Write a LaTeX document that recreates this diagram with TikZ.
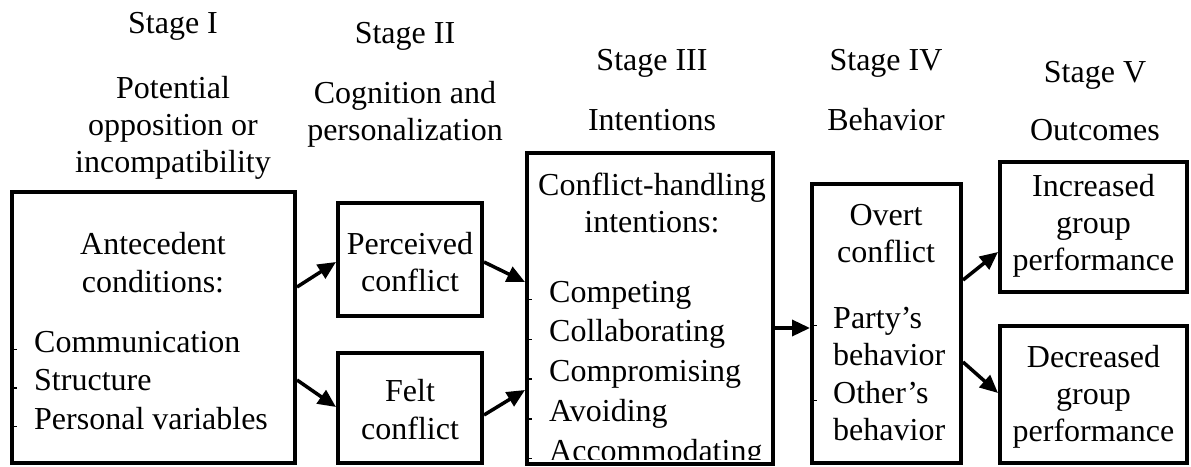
\documentclass[tikz,border=0pt]{standalone}
\usepackage{fontspec}
\setmainfont{Liberation Serif}
\usetikzlibrary{arrows.meta}
\begin{document}
\begin{tikzpicture}[x=1pt,y=-1pt,
  every node/.style={font=\fontsize{32pt}{38pt}\selectfont, inner sep=0pt},
  box/.style={draw, line width=4pt, rectangle, minimum width=#1},
  t/.style={anchor=base},
  li/.style={anchor=base west},
  arr/.style={line width=3.5pt, -{Triangle[length=18pt,width=16pt]}},
  tick/.style={line width=1.5pt}]
\useasboundingbox (0,0) rectangle (1191,466);

% boxes
\node[box=283pt, minimum height=271pt] (b1) at (153.5,327.5) {};
\node[box=144pt, minimum height=113pt] (b2) at (410,259.5) {};
\node[box=144pt, minimum height=110pt] (b3) at (410,408) {};
\node[box=246pt, minimum height=311pt] (b4) at (650,308.5) {};
\node[box=149pt, minimum height=279pt] (b5) at (886.5,323.5) {};
\node[box=187pt, minimum height=130pt] (b6) at (1093.5,227) {};
\node[box=187pt, minimum height=137pt] (b7) at (1093.5,394.5) {};

% headers
\node[t] (h1) at (173,33) {Stage I};
\node[t] (h1a) at (173,98) {Potential};
\node[t] (h1b) at (173,135) {opposition or};
\node[t] (h1c) at (173,172) {incompatibility};
\node[t] (h2) at (405,43) {Stage II};
\node[t] (h2a) at (405,103) {Cognition and};
\node[t] (h2b) at (405,140) {personalization};
\node[t] (h3) at (652,70) {Stage III};
\node[t] (h3a) at (652,130) {Intentions};
\node[t] (h4) at (886,70) {Stage IV};
\node[t] (h4a) at (886,130) {Behavior};
\node[t] (h5) at (1095,82) {Stage V};
\node[t] (h5a) at (1095,140) {Outcomes};

% box 1
\node[t] (a1) at (153,254) {Antecedent};
\node[t] (a2) at (153,292) {conditions:};
\node[li] (a3) at (34,352) {Communication};
\node[li] (a4) at (34,390.5) {Structure};
\node[li] (a5) at (34,429) {Personal variables};
\foreach \n in {a3,a4,a5} \draw[tick] (b1.west |- \n.mid) -- ++(7,0);

% box 2,3
\node[t] (p1) at (410,254) {Perceived};
\node[t] (p2) at (410,291) {conflict};
\node[t] (f1) at (410,401) {Felt};
\node[t] (f2) at (410,439) {conflict};

% box 4
\node[t] (c1) at (652,195) {Conflict-handling};
\node[t] (c2) at (652,232) {intentions:};
\node[li] (c3) at (549,302) {Competing};
\node[li] (c4) at (549,341.75) {Collaborating};
\node[li] (c5) at (549,381.5) {Compromising};
\node[li] (c6) at (549,421.25) {Avoiding};
\begin{scope}
\clip (b4.north west) rectangle ([yshift=7pt]b4.south east);
\node[li] (c7) at (549,461) {Accommodating};
\end{scope}
\foreach \n in {c3,c4,c5,c6,c7} \draw[tick] (b4.west |- \n.mid) -- ++(7,0);

% box 5
\node[t] (o1) at (886,225) {Overt};
\node[t] (o2) at (886,262) {conflict};
\node[li] (o3) at (833,328) {Party’s};
\node[li] (o4) at (833,365) {behavior};
\node[li] (o5) at (833,403) {Other’s};
\node[li] (o6) at (833,440) {behavior};
\foreach \n in {o3,o5} \draw[tick] (b5.west |- \n.mid) -- ++(7,0);

% box 6,7
\node[t] (i1) at (1093.5,196) {Increased};
\node[t] (i2) at (1093.5,233) {group};
\node[t] (i3) at (1093.5,270) {performance};
\node[t] (d1) at (1093.5,367) {Decreased};
\node[t] (d2) at (1093.5,404) {group};
\node[t] (d3) at (1093.5,441) {performance};

% arrows
\draw[arr] ([yshift=40.5pt]b1.east) -- ([yshift=-2.5pt]b2.west);
\draw[arr] ([yshift=-52.5pt]b1.east) -- ([yshift=1pt]b3.west);
\draw[arr] ([yshift=-2.5pt]b2.east) -- ([yshift=26.5pt]b4.west);
\draw[arr] ([yshift=-7pt]b3.east) -- ([yshift=-81.5pt]b4.west);
\draw[arr] ([yshift=-19.5pt]b4.east) -- ([yshift=-4.5pt]b5.west);
\draw[arr] ([yshift=43.5pt]b5.east) -- ([yshift=-25pt]b6.west);
\draw[arr] ([yshift=-38.5pt]b5.east) -- ([yshift=1.5pt]b7.west);
\end{tikzpicture}
\end{document}
